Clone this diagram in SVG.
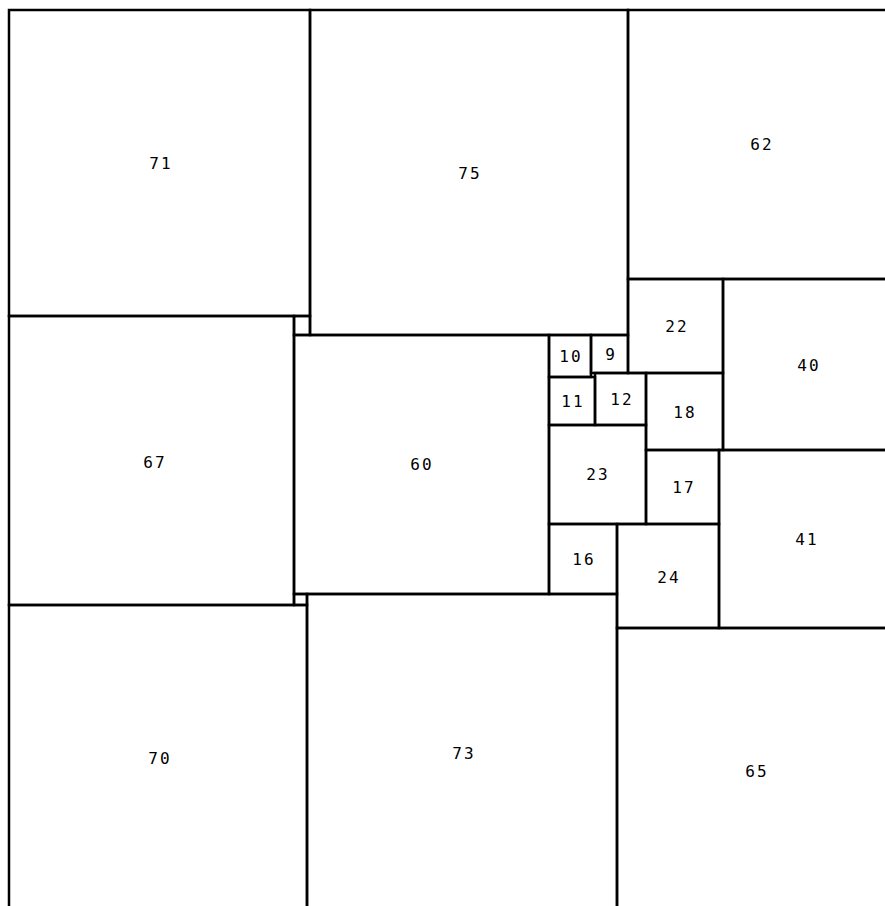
<svg xmlns="http://www.w3.org/2000/svg" width="885" height="906" viewBox="0 0 885 906">
<style>
  .sq { fill: none; stroke: #000; stroke-width: 2.5; }
  .lb { font-family: "DejaVu Sans Mono", "Liberation Mono", monospace; font-size: 16px; letter-spacing: 2px; fill: #000; text-anchor: middle; dominant-baseline: central; }
</style>
<rect x="0" y="0" width="885" height="906" fill="#fff"/>
<g id="s71"><rect class="sq" x="9" y="10" width="301" height="306"/><text class="lb" x="161" y="163">71</text></g>
<g id="s75"><rect class="sq" x="310" y="10" width="318" height="325"/><text class="lb" x="470" y="173">75</text></g>
<g id="s62"><rect class="sq" x="628" y="10" width="270" height="269"/><text class="lb" x="762" y="144">62</text></g>
<g id="s1a"><rect class="sq" x="294" y="316" width="16" height="19"/></g>
<g id="s67"><rect class="sq" x="9" y="316" width="285" height="289"/><text class="lb" x="155" y="462">67</text></g>
<g id="s60"><rect class="sq" x="294" y="335" width="255" height="259"/><text class="lb" x="422" y="464">60</text></g>
<g id="s10"><rect class="sq" x="549" y="335" width="42" height="42"/><text class="lb" x="571" y="356">10</text></g>
<g id="s9"><rect class="sq" x="591" y="335" width="37" height="38"/><text class="lb" x="611" y="354">9</text></g>
<g id="s11"><rect class="sq" x="549" y="377" width="46" height="48"/><text class="lb" x="573" y="401">11</text></g>
<g id="s12"><rect class="sq" x="595" y="373" width="51" height="52"/><text class="lb" x="622" y="399">12</text></g>
<g id="s23"><rect class="sq" x="549" y="425" width="97" height="99"/><text class="lb" x="598" y="474">23</text></g>
<g id="s16"><rect class="sq" x="549" y="524" width="68" height="70"/><text class="lb" x="584" y="559">16</text></g>
<g id="s22"><rect class="sq" x="628" y="279" width="95" height="94"/><text class="lb" x="677" y="326">22</text></g>
<g id="s40"><rect class="sq" x="723" y="279" width="175" height="171"/><text class="lb" x="809" y="365">40</text></g>
<g id="s18"><rect class="sq" x="646" y="373" width="77" height="77"/><text class="lb" x="685" y="412">18</text></g>
<g id="s17"><rect class="sq" x="646" y="450" width="73" height="74"/><text class="lb" x="684" y="487">17</text></g>
<g id="s41"><rect class="sq" x="719" y="450" width="179" height="178"/><text class="lb" x="807" y="539">41</text></g>
<g id="s24"><rect class="sq" x="617" y="524" width="102" height="104"/><text class="lb" x="669" y="577">24</text></g>
<g id="s65"><rect class="sq" x="617" y="628" width="281" height="290"/><text class="lb" x="757" y="771">65</text></g>
<g id="s73"><rect class="sq" x="307" y="594" width="310" height="324"/><text class="lb" x="464" y="753">73</text></g>
<g id="s70"><rect class="sq" x="9" y="605" width="298" height="313"/><text class="lb" x="160" y="758">70</text></g>
<g id="s1b"><rect class="sq" x="294" y="594" width="13" height="11"/></g>
<g id="connectors"></g>
</svg>
